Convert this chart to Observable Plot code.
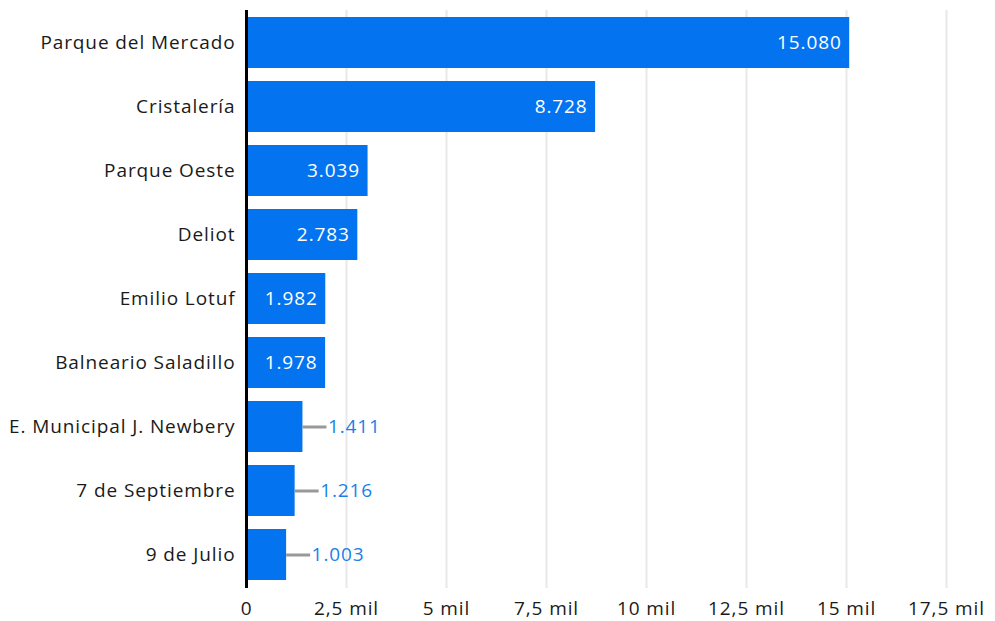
<!DOCTYPE html>
<html>
<head>
<meta charset="utf-8">
<script src="https://cdn.jsdelivr.net/npm/d3@7"></script>
<script src="https://cdn.jsdelivr.net/npm/@observablehq/plot@0.6"></script>
<style>
  body { margin: 0; background: #fff; }
  svg { font-family: "Open Sans", sans-serif; }
  svg text { letter-spacing: 0.9px; }
</style>
</head>
<body>
<div id="chart"></div>
<script>
const categories = ["Parque del Mercado", "Cristalería", "Parque Oeste", "Deliot", "Emilio Lotuf", "Balneario Saladillo", "E. Municipal J. Newbery", "7 de Septiembre", "9 de Julio"];
const values = [15080, 8728, 3039, 2783, 1982, 1978, 1411, 1216, 1003];
const xTicks = [0, 2500, 5000, 7500, 10000, 12500, 15000, 17500];
const xTickLabels = ["0", "2,5 mil", "5 mil", "7,5 mil", "10 mil", "12,5 mil", "15 mil", "17,5 mil"];

const data = categories.map((c, i) => ({ name: c, value: values[i] }));
const fmt = v => d3.format(",")(v).replace(/,/g, ".");
const inside = data.filter(d => d.value >= 1900);
const outside = data.filter(d => d.value < 1900);
const leader = 600; // leader length in data units

const chart = Plot.plot({
  width: 995,
  height: 621,
  marginLeft: 246,
  marginRight: 49,
  marginTop: 10,
  marginBottom: 33,
  style: { fontFamily: "Open Sans, sans-serif", fontSize: "19px", color: "#1a1a1a", background: "#fff" },
  x: { domain: [0, 17500], ticks: xTicks, label: null },
  y: { domain: categories, padding: 0.2, paddingOuter: 0.11, label: null },
  marks: [
    Plot.gridX(xTicks.slice(1), { stroke: "#e8e8e8", strokeOpacity: 1, strokeWidth: 2 }),
    Plot.axisX({ ticks: xTicks, tickSize: 0, tickPadding: 13, fontSize: 19, fill: "#1a1a1a", label: null, tickFormat: v => xTickLabels[xTicks.indexOf(v)] }),
    Plot.axisY({ tickSize: 0, tickPadding: 11, fontSize: 19, fill: "#1a1a1a", label: null }),
    Plot.barX(data, { x: "value", y: "name", fill: "#0473f0", insetLeft: 2 }),
    Plot.ruleY(outside, { y: "name", x1: "value", x2: d => d.value + leader, stroke: "#999", strokeWidth: 3 }),
    Plot.text(inside, { x: "value", y: "name", text: d => fmt(d.value), textAnchor: "end", dx: -8, fill: "#fff", fontSize: 19 }),
    Plot.text(outside, { x: "value", y: "name", text: d => fmt(d.value), textAnchor: "start", dx: 25, fill: "#1a7fe8", fontSize: 19 }),
    Plot.ruleX([0], { stroke: "#000", strokeWidth: 3 })
  ]
});
document.getElementById("chart").appendChild(chart);
</script>
</body>
</html>
